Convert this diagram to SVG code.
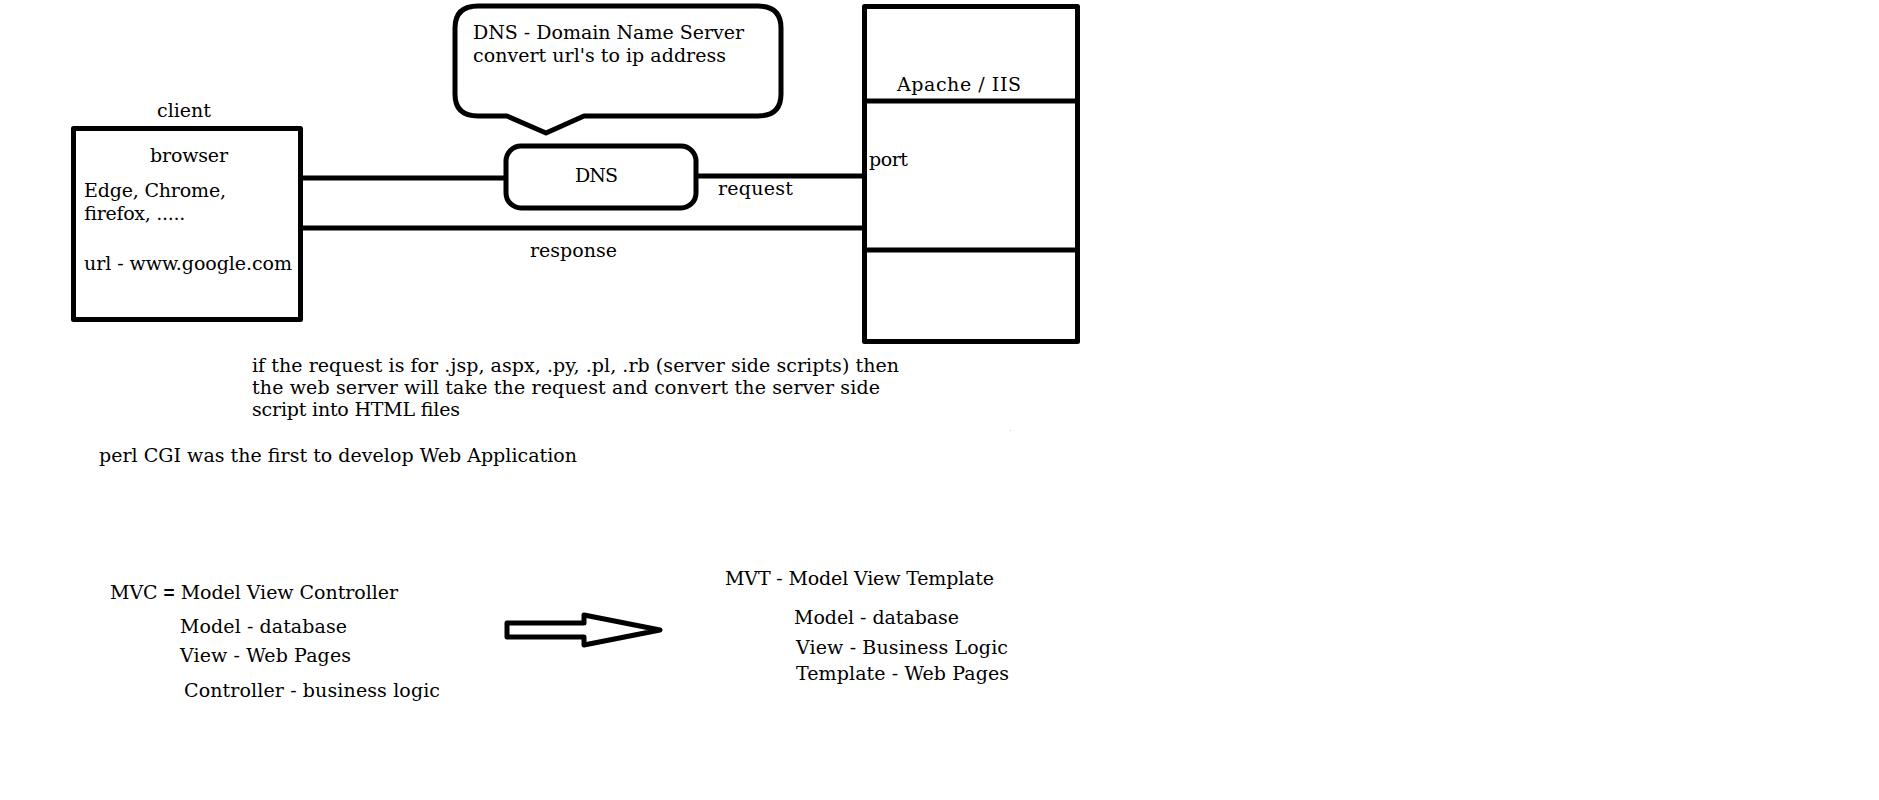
<svg xmlns="http://www.w3.org/2000/svg" width="1879" height="800" viewBox="0 0 1879 800">
<style>
  text { font-family: "DejaVu Serif", "Liberation Serif", serif; font-size: 19px; fill: #000; }
  .shape { fill: #fff; stroke: #000; stroke-width: 5; stroke-linejoin: round; }
  .line { stroke: #000; stroke-width: 5; fill: none; }
</style>
<rect x="0" y="0" width="1879" height="800" fill="#fff"/>

<g id="connectors">
  <line class="line" x1="302" y1="178" x2="506" y2="178"/>
  <line class="line" x1="696" y1="176" x2="864" y2="176"/>
  <line class="line" x1="302" y1="228" x2="864" y2="228"/>
</g>

<g id="client">
  <text x="157" y="117" textLength="54">client</text>
  <rect class="shape" x="73.5" y="128.5" width="227" height="191" stroke-linejoin="miter"/>
  <text x="150" y="162" textLength="78">browser</text>
  <text x="84" y="197" textLength="142">Edge, Chrome,</text>
  <text x="84" y="220" textLength="101">firefox, .....</text>
  <text x="84" y="270" textLength="208">url - www.google.com</text>
</g>

<g id="dns-bubble">
  <path class="shape" d="M478,6 L758,6 Q781,6 781,28 L781,94 Q781,116 758,116 L584,116 L546,133 L507,116 L478,116 Q455,116 455,94 L455,28 Q455,6 478,6 Z"/>
  <text x="473" y="39" textLength="271">DNS - Domain Name Server</text>
  <text x="473" y="62" textLength="253">convert url's to ip address</text>
</g>

<g id="dns">
  <rect class="shape" x="506" y="146" width="190" height="62" rx="15" ry="15"/>
  <text x="575" y="182" textLength="43">DNS</text>
</g>

<g id="server">
  <rect class="shape" x="864.5" y="6.5" width="213" height="335" stroke-linejoin="miter"/>
  <line class="line" x1="864" y1="101" x2="1078" y2="101"/>
  <line class="line" x1="864" y1="250" x2="1078" y2="250"/>
  <text x="897" y="91" textLength="124">Apache / IIS</text>
  <text x="869" y="166" textLength="39">port</text>
</g>

<g id="labels">
  <text x="718" y="195" textLength="75">request</text>
  <text x="530" y="257" textLength="87">response</text>
</g>

<g id="notes">
  <text x="252" y="372" textLength="647">if the request is for .jsp, aspx, .py, .pl, .rb (server side scripts) then</text>
  <text x="252" y="394" textLength="628">the web server will take the request and convert the server side</text>
  <text x="252" y="416" textLength="208">script into HTML files</text>
  <text x="99" y="462" textLength="478">perl CGI was the first to develop Web Application</text>
  <rect x="1010" y="430" width="1" height="1" fill="#ccc"/>
</g>

<g id="mvc">
  <text x="110" y="599" textLength="288">MVC <tspan font-family="'Liberation Sans', sans-serif" font-weight="bold">=</tspan> Model View Controller</text>
  <text x="180" y="633" textLength="167">Model - database</text>
  <text x="180" y="662" textLength="171">View - Web Pages</text>
  <text x="184" y="697" textLength="256">Controller - business logic</text>
</g>

<g id="arrow">
  <path class="shape" d="M507,623 L584,623 L584,615 L660,630 L584,645 L584,637 L507,637 Z"/>
</g>

<g id="mvt">
  <text x="725" y="585" textLength="269">MVT - Model View Template</text>
  <text x="794" y="624" textLength="165">Model - database</text>
  <text x="796" y="654" textLength="212">View - Business Logic</text>
  <text x="796" y="680" textLength="213">Template - Web Pages</text>
</g>
</svg>
